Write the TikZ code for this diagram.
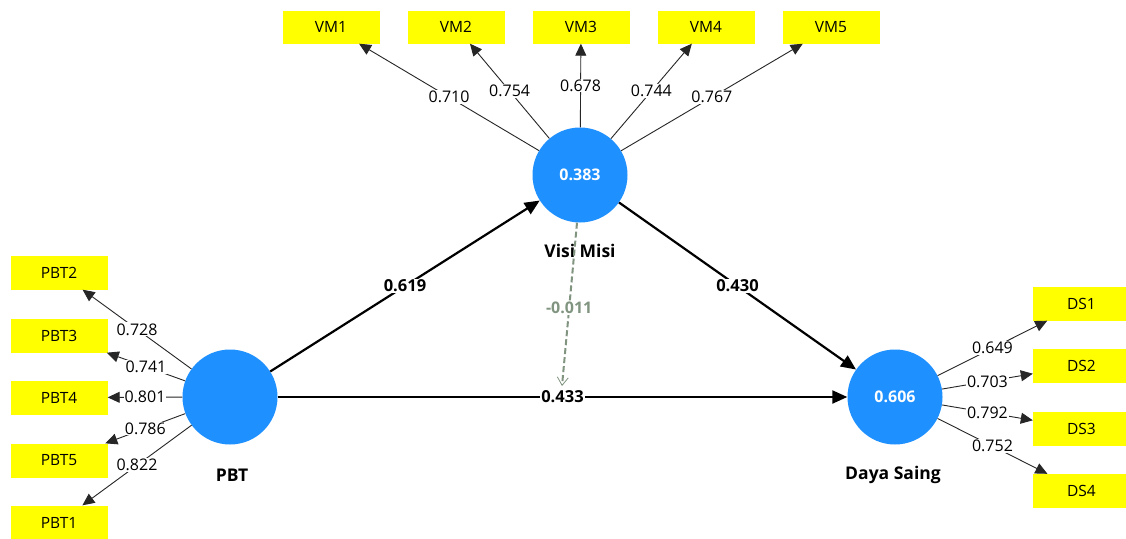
\documentclass[tikz,border=0pt]{standalone}
\usepackage{fontspec}
\setmainfont{Open Sans}
\usetikzlibrary{arrows.meta}
\definecolor{lvblue}{RGB}{30,144,255}
\definecolor{indyellow}{RGB}{255,255,0}
\definecolor{modgreen}{RGB}{128,148,128}
\tikzset{
  ind/.style={fill=indyellow, minimum width=97pt, minimum height=34pt, inner sep=0pt,
    font=\fontsize{15.5}{17}\selectfont},
  lv/.style={circle, fill=lvblue, minimum size=95pt, inner sep=0pt,
    text=white, font=\bfseries\fontsize{16}{18}\selectfont},
  lvname/.style={font=\bfseries\fontsize{17.5}{19}\selectfont},
  load/.style={draw=black!85, line width=0.9pt, -{Triangle[length=12pt,width=11pt]}},
  loadlab/.style={fill=white, inner sep=1pt, font=\fontsize{16}{18}\selectfont},
  struct/.style={line width=2.2pt, -{Triangle[length=15pt,width=13pt]}},
  structlab/.style={fill=white, inner sep=1pt, font=\bfseries\fontsize{16.5}{18}\selectfont},
}
\begin{document}
\begin{tikzpicture}[x=1pt, y=-1pt]
  \useasboundingbox (0,0) rectangle (1126,538);
  \fill[white] (0,0) rectangle (1126,538);
  \clip (0,0) rectangle (1126,538);

  % latent variables
  \node[lv] (vm)  at (580,175) {0.383};
  \node[lv] (pbt) at (230,397) {};
  \node[lv] (ds)  at (895,397) {0.606};
  \node[lvname] at (580,251) {Visi Misi};
  \node[lvname] at (232,475) {PBT};
  \node[lvname] at (893,475) {Daya Saing};

  % indicators of Visi Misi
  \node[ind, minimum height=33pt] (vm1) at (331,27) {VM1};
  \node[ind, minimum height=33pt] (vm2) at (456,27) {VM2};
  \node[ind, minimum height=33pt] (vm3) at (581,27) {VM3};
  \node[ind, minimum height=33pt] (vm4) at (706,27) {VM4};
  \node[ind, minimum height=33pt] (vm5) at (831,27) {VM5};

  % indicators of PBT
  \node[ind] (pbt2) at (59,272.5) {PBT2};
  \node[ind] (pbt3) at (59,335.5) {PBT3};
  \node[ind] (pbt4) at (59,397.5) {PBT4};
  \node[ind] (pbt5) at (59,460.5) {PBT5};
  \node[ind] (pbt1) at (59,522.5) {PBT1};

  % indicators of Daya Saing
  \node[ind] (ds1) at (1081.5,303.5) {DS1};
  \node[ind] (ds2) at (1081.5,365.5) {DS2};
  \node[ind] (ds3) at (1081.5,428.5) {DS3};
  \node[ind] (ds4) at (1081.5,491) {DS4};

  % outer loadings
  \draw[load] (vm) -- node[loadlab] {0.710} (vm1);
  \draw[load] (vm) -- node[loadlab] {0.754} (vm2);
  \draw[load] (vm) -- node[loadlab] {0.678} (vm3);
  \draw[load] (vm) -- node[loadlab] {0.744} (vm4);
  \draw[load] (vm) -- node[loadlab] {0.767} (vm5);

  \draw[load] (pbt) -- node[loadlab] {0.728} (pbt2);
  \draw[load] (pbt) -- node[loadlab] {0.741} (pbt3);
  \draw[load] (pbt) -- node[loadlab] {0.801} (pbt4);
  \draw[load] (pbt) -- node[loadlab] {0.786} (pbt5);
  \draw[load] (pbt) -- node[loadlab] {0.822} (pbt1);

  \draw[load] (ds) -- node[loadlab] {0.649} (ds1);
  \draw[load] (ds) -- node[loadlab] {0.703} (ds2);
  \draw[load] (ds) -- node[loadlab] {0.792} (ds3);
  \draw[load] (ds) -- node[loadlab] {0.752} (ds4);

  % structural paths
  \draw[struct] (pbt) -- node[structlab] {0.619} (vm);
  \draw[struct] (vm) -- node[structlab] {0.430} (ds);
  \draw[struct] (pbt) -- node[structlab] {0.433} (ds);

  % moderating effect
  \coordinate (modend) at (562,386);
  \draw[modgreen, line width=2pt, dash pattern=on 6pt off 3pt,
        -{Straight Barb[length=8pt,width=11pt,line width=0.8pt]}]
    (vm.south) ++(-3,0) coordinate (modstart) -- node[fill=white, inner sep=1pt,
      font=\bfseries\fontsize{16}{18}\selectfont, text=modgreen, pos=0.52] {-0.011} (modend);
\end{tikzpicture}
\end{document}
